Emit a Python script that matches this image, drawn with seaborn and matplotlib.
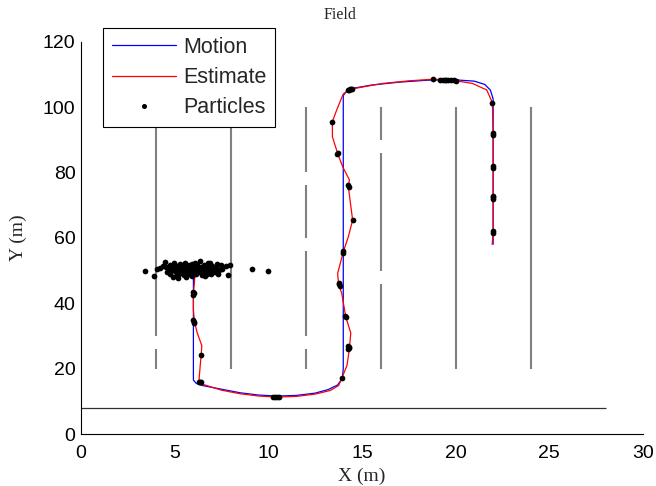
import numpy as np
import pandas as pd
import matplotlib
matplotlib.use("Agg")
import matplotlib.pyplot as plt
import seaborn as sns
from matplotlib.lines import Line2D

# ---------------- data ----------------
motion_x = [6.0, 6.0, 6.15, 6.5, 7.5, 8.5, 9.5, 10.5, 11.5, 12.5, 13.2, 13.7, 13.95, 14.0,
            14.0, 14.2, 14.6, 15.5, 17.0, 18.5, 20.0, 21.0, 21.55, 21.85, 22.0, 22.0]
motion_y = [50.3, 16.5, 15.5, 14.8, 13.7, 12.6, 11.9, 11.6, 11.8, 12.5, 13.6, 15.0, 17.0, 20.0,
            103.5, 105.0, 105.8, 106.7, 107.6, 108.2, 108.3, 107.9, 106.9, 105.2, 102.5, 58.0]

est_x = [6.1, 6.05, 6.0, 6.0, 6.05, 6.2, 6.45, 6.42, 6.35, 6.3, 6.5, 7.5, 8.5, 9.5, 10.4,
         11.5, 12.5, 13.3, 13.75, 13.92, 14.2, 14.33, 14.4, 14.13, 13.92, 13.75, 13.7, 14.0,
         14.27, 14.5, 14.36, 14.27, 14.33, 13.97, 13.7, 13.42, 13.42, 13.65, 14.0, 14.36,
         15.2, 16.1, 17.5, 18.8, 19.7, 20.9, 21.66, 21.96, 22.0, 22.0, 22.0, 22.0, 21.95]
est_y = [50.3, 46.0, 43.0, 38.0, 34.5, 31.0, 27.0, 24.5, 20.0, 16.5, 15.2, 13.4, 12.3, 11.6, 11.3,
         11.5, 12.2, 13.3, 14.8, 17.0, 21.0, 26.2, 30.9, 35.9, 43.0, 45.8, 49.1, 55.7,
         60.3, 65.4, 71.6, 75.7, 77.7, 81.7, 85.8, 90.9, 95.5, 99.1, 104.0, 105.4,
         106.3, 107.2, 108.0, 108.5, 108.3, 107.2, 105.2, 101.3, 91.6, 81.7, 72.4, 61.9, 58.0]

particle_x = [3.42, 3.90, 4.04, 4.2, 4.48, 4.54, 4.75, 4.93, 6.35, 6.8, 7.24, 7.51, 7.74, 7.96,
              7.87, 9.11, 10.0, 7.3, 5.2, 5.6,
              4.7, 4.8, 4.9, 5.0, 5.05, 5.1, 5.2, 5.25, 5.3, 5.35, 5.4, 5.45, 5.5, 5.5, 5.6,
              5.65, 5.7, 5.75, 5.8, 5.85, 5.9, 5.95, 6.0, 6.05, 6.1, 6.15, 6.2, 6.25, 6.3, 6.35,
              6.4, 6.45, 6.5, 6.55, 6.6, 6.65, 6.7, 6.75, 6.8, 6.85, 6.9, 6.95, 7.0, 7.05, 7.1,
              7.15, 7.2, 7.35, 5.15, 5.55, 6.1, 4.6, 4.75, 5.9, 6.6, 7.45, 6.9, 5.95, 5.3, 4.95, 4.4,
              6.0, 6.0, 6.05, 6.0, 6.02, 6.05, 6.42, 6.3, 6.4, 6.35,
              10.25, 10.35, 10.45, 10.55, 13.92,
              14.27, 14.3, 14.33, 14.25, 14.1, 14.15, 13.75, 13.8, 13.77, 14.0, 13.98, 14.5,
              14.27, 14.3, 13.7, 13.68, 13.42, 14.25, 14.35, 14.45, 14.3, 14.4,
              18.8, 19.15, 19.3, 19.45, 19.6, 19.75, 19.9, 20.0, 19.5,
              21.96, 22.0, 22.0, 22.0, 22.0, 22.0, 22.0, 22.0, 22.0, 22.0]
particle_y = [49.8, 48.4, 50.5, 50.8, 52.7, 51.2, 51.7, 48.1, 52.9, 52.2, 52.0, 50.4, 51.4, 51.6,
              48.6, 50.5, 49.9, 49.0, 47.6, 47.9,
              50.6, 49.9, 51.0, 50.2, 49.4, 51.5, 50.7, 49.0, 50.0, 51.8, 50.5, 49.5, 48.7, 51.2, 50.1,
              49.2, 50.8, 51.6, 49.7, 48.6, 50.4, 51.2, 49.3, 50.0, 50.9, 48.8, 51.6, 49.9, 50.6, 49.4,
              51.1, 48.6, 50.2, 51.8, 49.6, 50.8, 49.0, 51.3, 50.3, 49.5, 50.9, 48.9, 51.5, 50.0, 50.7,
              49.4, 51.0, 50.3, 48.6, 52.3, 52.4, 49.6, 48.9, 48.3, 48.3, 51.7, 52.3, 52.0, 52.0, 52.2, 51.4,
              43.5, 42.5, 43.0, 34.9, 33.9, 34.4, 24.3, 15.9, 15.8, 16.0,
              11.2, 11.2, 11.25, 11.3, 17.2,
              26.0, 26.7, 26.3, 26.9, 36.1, 35.7, 46.2, 45.4, 45.8, 55.5, 55.9, 65.4,
              76.0, 75.5, 86.0, 85.5, 95.5, 105.2, 105.4, 105.6, 105.3, 105.5,
              108.5, 108.4, 108.3, 108.3, 108.25, 108.2, 108.15, 108.1, 108.4,
              101.3, 91.9, 91.3, 82.0, 81.4, 72.9, 71.9, 72.4, 62.2, 61.6]

wall_x = [4, 4, 8, 12, 12, 12, 12, 16, 16, 16, 20, 24]
wall_y0 = [20, 30, 20, 20, 30, 60, 80, 20, 50, 90, 20, 20]
wall_y1 = [26, 100, 100, 26, 56, 76, 100, 46, 86, 100, 100, 100]

floor_y = 8
floor_x = [0, 28]

x_ticks = [0, 5, 10, 15, 20, 25, 30]
y_ticks = [0, 20, 40, 60, 80, 100, 120]

# ---------------- plot ----------------
sns.set_style("white")
plt.rcParams['font.family'] = ['Liberation Sans', 'DejaVu Sans']

fig = plt.figure(figsize=(6.56, 4.86), dpi=100)
ax = fig.add_axes([81/656, (486-434)/486, (643-81)/656, (434-41.6)/486])

ax.vlines(wall_x, wall_y0, wall_y1, colors='#808080', linewidth=1.5, zorder=1)
ax.hlines(floor_y, floor_x[0], floor_x[1], colors='#303030', linewidth=0.9, zorder=1)

motion_df = pd.DataFrame({'x': motion_x, 'y': motion_y})
est_df = pd.DataFrame({'x': est_x, 'y': est_y})
part_df = pd.DataFrame({'x': particle_x, 'y': particle_y})

sns.lineplot(data=motion_df, x='x', y='y', sort=False, estimator=None, color=(0, 0, 1),
             linewidth=0.9, ax=ax, zorder=2)
sns.lineplot(data=est_df, x='x', y='y', sort=False, estimator=None, color=(1, 0, 0),
             linewidth=0.9, ax=ax, zorder=3)
sns.scatterplot(data=part_df, x='x', y='y', color='black', s=17, linewidth=0, ax=ax, zorder=4)

ax.set_xlim(0, 30)
ax.set_ylim(0, 120)
ax.set_xticks(x_ticks)
ax.set_yticks(y_ticks)
ax.tick_params(direction='in', length=4, width=0.8, labelsize=14, colors='black', pad=4)
ax.tick_params(axis='x', pad=8)
for side in ['top', 'right']:
    ax.spines[side].set_visible(False)
for side in ['left', 'bottom']:
    ax.spines[side].set_color('black')
    ax.spines[side].set_linewidth(0.8)

serif = ['Liberation Serif', 'DejaVu Serif']
ax.set_xlabel('X (m)', fontsize=14, family=serif)
ax.set_ylabel('Y (m)', fontsize=14, family=serif)
ax.xaxis.set_label_coords(0.5, (434-476)/392.4)
ax.xaxis.label.set_va('center')
ax.yaxis.set_label_coords((18-81)/562, (434-238)/392.4)
ax.yaxis.label.set_va('center')

fig.text(340/656, 1-15/486, 'Field', ha='center', va='center', fontsize=11.5, family=serif)

handles = [Line2D([], [], color=(0, 0, 1), lw=0.9),
           Line2D([], [], color=(1, 0, 0), lw=0.9),
           Line2D([], [], color='black', marker='o', markersize=2.6, lw=0)]
leg = ax.legend(handles, ['Motion', 'Estimate', 'Particles'], loc='upper left',
                bbox_to_anchor=(22/562, (434-28)/392.4), borderaxespad=0,
                fontsize=15.5, frameon=True, fancybox=False, framealpha=1,
                edgecolor='black', handlelength=2.97, handletextpad=0.33,
                labelspacing=0.43, borderpad=0.41)
leg.get_frame().set_linewidth(0.8)

fig.savefig('out.png', dpi=100)
